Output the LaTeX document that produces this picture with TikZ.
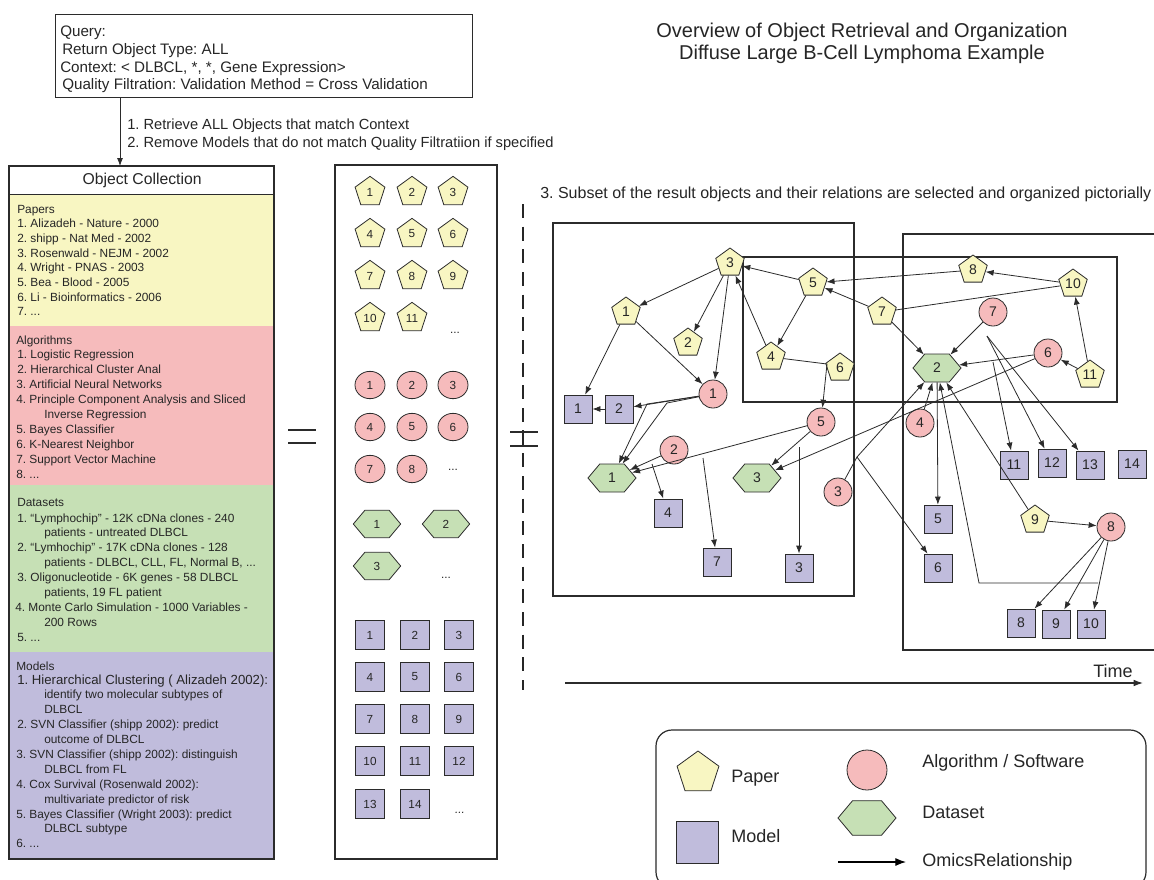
\documentclass[tikz,border=0pt]{standalone}
\usepackage{fontspec}
\setmainfont{Liberation Sans}
\usetikzlibrary{shapes.geometric,shapes.symbols,arrows.meta}
\frenchspacing

\definecolor{paperfill}{HTML}{F8F6C2}
\definecolor{algofill}{HTML}{F6BBBC}
\definecolor{datafill}{HTML}{C6E0B5}
\definecolor{modelfill}{HTML}{C0BCDC}
\definecolor{ink}{HTML}{262626}
\definecolor{wire}{HTML}{2B2B2B}

\newcommand{\fsz}[1]{\fontsize{#1}{#1}\selectfont}

\tikzset{
  x=0.75pt, y=-0.75pt,
  objline/.style={draw=wire, line width=0.6pt},
  paper/.style={objline, regular polygon, regular polygon sides=5, fill=paperfill, inner sep=0pt, minimum size=22.5pt, font=\fsz{10.5}},
  algo/.style={objline, circle, fill=algofill, inner sep=0pt, minimum size=21pt, font=\fsz{10.5}},
  dataset/.style={objline, signal, signal to=west and east, signal pointer angle=100, fill=datafill, inner sep=0pt, minimum width=36pt, minimum height=21pt, font=\fsz{10.5}},
  model/.style={objline, rectangle, fill=modelfill, inner sep=0pt, minimum size=21pt, font=\fsz{10.5}},
  mpaper/.style={paper, minimum size=23.5pt, font=\fsz{8.8}},
  malgo/.style={objline, ellipse, fill=algofill, inner sep=0pt, minimum width=22.5pt, minimum height=20.5pt, font=\fsz{8.8}},
  mdata/.style={dataset, minimum width=35.5pt, minimum height=20.5pt, font=\fsz{8.8}},
  mmodel/.style={model, minimum width=21.5pt, minimum height=21.5pt, font=\fsz{8.8}},
  dots/.style={inner sep=0pt, font=\fsz{8.8}},
  relarrow/.style={draw=wire, line width=0.6pt, -{Latex[length=6pt,width=4.5pt]}},
  plainlink/.style={draw=wire, line width=0.6pt},
  boxframe/.style={draw=wire, line width=0.9pt},
  itemtxt/.style={anchor=base west, inner sep=0pt, font=\fsz{8.9}},
  qtxt/.style={anchor=base west, inner sep=0pt, font=\fsz{11.4}},
  steptxt/.style={anchor=base west, inner sep=0pt, font=\fsz{11}},
  legtxt/.style={anchor=west, inner sep=0pt, font=\fsz{13.5}},
  every node/.append style={text=ink}
}

\begin{document}
\begin{tikzpicture}
\useasboundingbox (0,0) rectangle (1154,879);
\fill[white] (0,0) rectangle (1154,879);

% ---------- title ----------
\node[anchor=base, inner sep=0pt, font=\fsz{15}] (title1) at (862,37) {Overview of Object Retrieval and Organization};
\node[anchor=base, inner sep=0pt, font=\fsz{15}] (title2) at (862,59) {Diffuse Large B-Cell Lymphoma Example};

% ---------- query ----------
\node[boxframe, anchor=north west, minimum width=312.75pt, minimum height=62.25pt, inner sep=0pt] (query) at (55,14) {};
\node[qtxt] (q1) at (60,36) {Query:};
\node[qtxt] (q2) at (62,54) {Return Object Type: ALL};
\node[qtxt] (q3) at (60,72) {Context: < DLBCL, *, *, Gene Expression>};
\node[qtxt] (q4) at (62,89.5) {Quality Filtration: Validation Method = Cross Validation};

\node[steptxt] (step1) at (127,129) {1. Retrieve ALL Objects that match Context};
\node[steptxt] (step2) at (127,147) {2. Remove Models that do not match Quality Filtratiion if specified};

% ---------- object collection ----------
\fill[paperfill] (9,194) rectangle (274,326);
\fill[algofill]  (9,326) rectangle (274,485);
\fill[datafill]  (9,485) rectangle (274,652);
\fill[modelfill] (9,652) rectangle (274,859);
\node[boxframe, anchor=north west, minimum width=198.75pt, minimum height=21pt, inner sep=0pt, font=\fsz{11.8}] (coll) at (9,166) {Object Collection};
\draw[boxframe] (9,166) rectangle (274,859);

\coordinate (qx) at (120,0);
\draw[relarrow] (query.south -| qx) -- (coll.north -| qx);

\foreach \xx/\yy/\tt [count=\i] in {
  17/213/Papers,
  17/227.7/{1. Alizadeh - Nature - 2000},
  17/242.4/{2. shipp - Nat Med - 2002},
  17/257.1/{3. Rosenwald - NEJM - 2002},
  17/271.8/{4. Wright - PNAS - 2003},
  17/286.5/{5. Bea - Blood - 2005},
  17/301.2/{6. Li - Bioinformatics - 2006},
  17/315.9/{7. ...}}
  \node[itemtxt] (pap\i) at (\xx,\yy) {\tt};

\foreach \xx/\yy/\tt [count=\i] in {
  16/344/Algorithms,
  17/358.9/{1. Logistic Regression},
  17/373.8/{2. Hierarchical Cluster Anal},
  16/388.7/{3. Artificial Neural Networks},
  16/403.6/{4. Principle Component Analysis and Sliced},
  44/418.5/{Inverse Regression},
  16/433.4/{5. Bayes Classifier},
  16/448.3/{6. K-Nearest Neighbor},
  16/463.2/{7. Support Vector Machine},
  16/478.1/{8. ...}}
  \node[itemtxt] (alg\i) at (\xx,\yy) {\tt};

\foreach \xx/\yy/\tt [count=\i] in {
  17/506/Datasets,
  17/522/{1. “Lymphochip" - 12K cDNa clones - 240},
  44/536.9/{patients - untreated DLBCL},
  17/551.8/{2. “Lymhochip" - 17K cDNa clones - 128},
  44/566.7/{patients - DLBCL, CLL, FL, Normal B, ...},
  17/581.6/{3. Oligonucleotide - 6K genes - 58 DLBCL},
  44/596.5/{patients, 19 FL patient},
  15/611.4/{4. Monte Carlo Simulation - 1000 Variables -},
  44/626.3/{200 Rows},
  17/641.2/{5. ...}}
  \node[itemtxt] (dat\i) at (\xx,\yy) {\tt};

\node[itemtxt] (mod0) at (16,670) {Models};
\node[itemtxt, font=\fsz{9.9}] (mod1) at (17,684.5) {1. Hierarchical Clustering ( Alizadeh 2002):};
\foreach \xx/\yy/\tt [count=\i from 2] in {
  44/698.5/{identify two molecular subtypes of},
  44/713.3/{DLBCL},
  17/728.5/{2. SVN Classifier (shipp 2002): predict},
  44/743/{outcome of DLBCL},
  16/758/{3. SVN Classifier (shipp 2002): distinguish},
  44/773/{DLBCL from FL},
  16/788/{4. Cox Survival (Rosenwald 2002):},
  44/803/{multivariate predictor of risk},
  16/818/{5. Bayes Classifier (Wright 2003): predict},
  44/832.5/{DLBCL subtype},
  16/847/{6. ...}}
  \node[itemtxt] (mod\i) at (\xx,\yy) {\tt};

% ---------- equals signs and separator ----------
\draw[line width=0.8pt, draw=wire] (288,430) -- (316,430) (288,443) -- (316,443);
\draw[line width=1.9pt, draw=black!85, dash pattern=on 10.5pt off 6.5pt] (523,204) -- (523,690);
\draw[line width=1.9pt, draw=black!85] (523,430) -- (523,446);
\draw[line width=0.8pt, draw=wire] (510,432) -- (538,432) (510,446) -- (538,446);

% ---------- full result set ----------
\draw[boxframe] (335,165) rectangle (497,859);
\foreach \n/\x/\y in {1/370/192, 2/412/192, 3/453/192,
                      4/370/234, 5/412/234, 6/453/234,
                      7/370/276, 8/412/276, 9/453/276,
                      10/370/318, 11/412/318}
  \node[mpaper] (mp\n) at (\x,\y) {\n};
\node[dots] (mpmore) at (455,333) {...};
\foreach \n/\x/\y in {1/370/385, 2/412/385, 3/453/385,
                      4/370/427, 5/412/427, 6/453/427,
                      7/370/469, 8/412/469}
  \node[malgo] (ma\n) at (\x,\y) {\n};
\node[dots] (mamore) at (453,470) {...};
\foreach \n/\x/\y in {1/377/524, 2/446/524, 3/377/566}
  \node[mdata] (md\n) at (\x,\y) {\n};
\node[dots] (mdmore) at (446,578) {...};
\foreach \n/\x/\y in {1/370/635, 2/415/635, 3/459/635,
                      4/370/677, 5/415/677, 6/459/677,
                      7/370/719, 8/415/719, 9/459/719,
                      10/370/761, 11/415/761, 12/459/761,
                      13/370/804, 14/415/804}
  \node[mmodel] (mm\n) at (\x,\y) {\n};
\node[dots, font=\itshape\fsz{8.8}] (mmmore) at (460,813) {...};

% ---------- selected subset ----------
\node[anchor=base west, inner sep=0pt, font=\fsz{12}] (step3) at (540,198)
  {3. Subset of the result objects and their relations are selected and organized pictorially};

\draw[boxframe] (553,223) rectangle (854,596);
\draw[boxframe] (1154,234) -- (903,234) -- (903,650) -- (1154,650);
\draw[boxframe] (743,257) rectangle (1117,402);

% papers
\node[paper] (P1) at (626,312) {1};
\node[paper] (P2) at (688,343) {2};
\node[paper] (P3) at (730,263) {3};
\node[paper] (P4) at (771,357) {4};
\node[paper] (P5) at (813,283) {5};
\node[paper] (P6) at (840,368) {6};
\node[paper] (P7) at (882,312) {7};
\node[paper] (P8) at (973,270) {8};
\node[paper] (P9) at (1035,520) {9};
\node[paper] (P10) at (1073,284) {10};
\node[paper] (P11) at (1090,375) {11};
% algorithms
\node[algo] (A1) at (713,394) {1};
\node[algo] (A2) at (674,450) {2};
\node[algo] (A3) at (838,492) {3};
\node[algo] (A4) at (920,423) {4};
\node[algo] (A5) at (821,422) {5};
\node[algo] (A6) at (1048,353) {6};
\node[algo] (A7) at (993,312) {7};
\node[algo] (A8) at (1111,527) {8};
% datasets
\node[dataset] (D1) at (612,478) {1};
\node[dataset] (D2) at (937,368) {2};
\node[dataset] (D3) at (757,478) {3};
% models
\node[model] (M1) at (578,409) {1};
\node[model] (M2) at (619,409) {2};
\node[model] (M3) at (799,568) {3};
\node[model] (M4) at (668,513) {4};
\node[model] (M5) at (938,519) {5};
\node[model] (M6) at (938,568) {6};
\node[model] (M7) at (717,562) {7};
\node[model] (M8) at (1021,623) {8};
\node[model] (M9) at (1056,624) {9};
\node[model] (M10) at (1091,624) {10};
\node[model] (M11) at (1014,465) {11};
\node[model] (M12) at (1052,463) {12};
\node[model] (M13) at (1090,465) {13};
\node[model] (M14) at (1132,464) {14};

% bend and branch points of the routed relations
\coordinate (k1) at (827,364);
\coordinate (ja1) at (647,404);
\coordinate (ja1b) at (667,403);
\coordinate (jm4) at (652,464);
\coordinate (jm7) at (703,458);
\coordinate (jm3) at (799,447);
\coordinate (j3) at (857,457);
\coordinate (j6) at (993,362);
\coordinate (j7) at (987,336);
\coordinate (ja8) at (1098,583);
\coordinate (ja8b) at (979,583);

% relations
\draw[relarrow] (P3) -- (P1);
\draw[relarrow] (P3) -- (P2);
\draw[relarrow] (P3) -- (A1);
\draw[relarrow] (P1) -- (M1);
\draw[relarrow] (P1) -- (A1);
\draw[relarrow] (A1) -- (M2);
\draw[relarrow] (M2) -- (M1);
\draw[relarrow] (A1) -- (ja1) -- (D1);
\draw[relarrow] (A1) -- (ja1b) -- (D1);
\draw[relarrow] (P5) -- (P3);
\draw[relarrow] (P4) -- (P3);
\draw[relarrow] (P5) -- (P4);
\draw[relarrow] (P4) -- (k1) -- (A5);
\draw[relarrow] (P8) -- (P5);
\draw[relarrow] (P7) -- (P5);
\draw[relarrow] (P10) -- (P8);
\draw[plainlink] (P10) -- (P7);
\draw[relarrow] (P7) -- (D2);
\draw[relarrow] (A7) -- (D2);
\draw[relarrow] (A6) -- (D2);
\draw[relarrow] (P11) -- (A6);
\draw[relarrow] (P11) -- (P10);
\draw[relarrow] (j6) -- (M11);
\draw[relarrow] (j7) -- (M12);
\draw[relarrow] (j7) -- (M13);
\draw[relarrow] (A2) -- (D1);
\draw[relarrow] (jm4) -- (M4);
\draw[relarrow] (A5) -- (D1);
\draw[relarrow] (jm7) -- (M7);
\draw[relarrow] (A5) -- (D3);
\draw[relarrow] (jm3) -- (M3);
\draw[relarrow] (A6) -- (D3);
\draw[plainlink] (A3) -- (j3);
\draw[relarrow] (j3) -- (D2);
\draw[relarrow] (j3) -- (M6);
\draw[relarrow] (A4) -- (D2);
\draw[relarrow] (D2) -- (M5);
\draw[relarrow] (P9) -- (D2);
\draw[relarrow] (P9) -- (A8);
\draw[relarrow] (A8) -- (M8);
\draw[relarrow] (A8) -- (M9);
\draw[relarrow] (A8) -- (M10);
\draw[relarrow] (ja8) -- (ja8b) -- (D2);

% time axis
\coordinate (t0) at (565,683);
\coordinate (t1) at (1143,683);
\draw[draw=wire, line width=0.9pt, -{Latex[length=7pt,width=5pt]}] (t0) -- (t1);
\node[inner sep=0pt, font=\fsz{13.5}] (timelbl) at (1113,671) {Time};

% ---------- legend ----------
\draw[boxframe, rounded corners=12pt] (656,730) rectangle (1146,888);
\node[paper, minimum size=33pt] (legP) at (698,773) {};
\node[legtxt] (legPt) at (731,778) {Paper};
\node[model, minimum size=31.5pt] (legM) at (697,842) {};
\node[legtxt] (legMt) at (731,836) {Model};
\node[algo, minimum size=30pt] (legA) at (867,770) {};
\node[legtxt] (legAt) at (922,763) {Algorithm / Software};
\node[dataset, minimum width=43.5pt, minimum height=26pt] (legD) at (867,818) {};
\node[legtxt] (legDt) at (922,812) {Dataset};
\coordinate (r0) at (838,862);
\coordinate (r1) at (906,862);
\node[legtxt] (legRt) at (922,862) {OmicsRelationship};
\draw[draw=black, line width=0.8pt, -{Latex[length=8pt,width=6pt]}] (r0) -- (r1);
\end{tikzpicture}
\end{document}
